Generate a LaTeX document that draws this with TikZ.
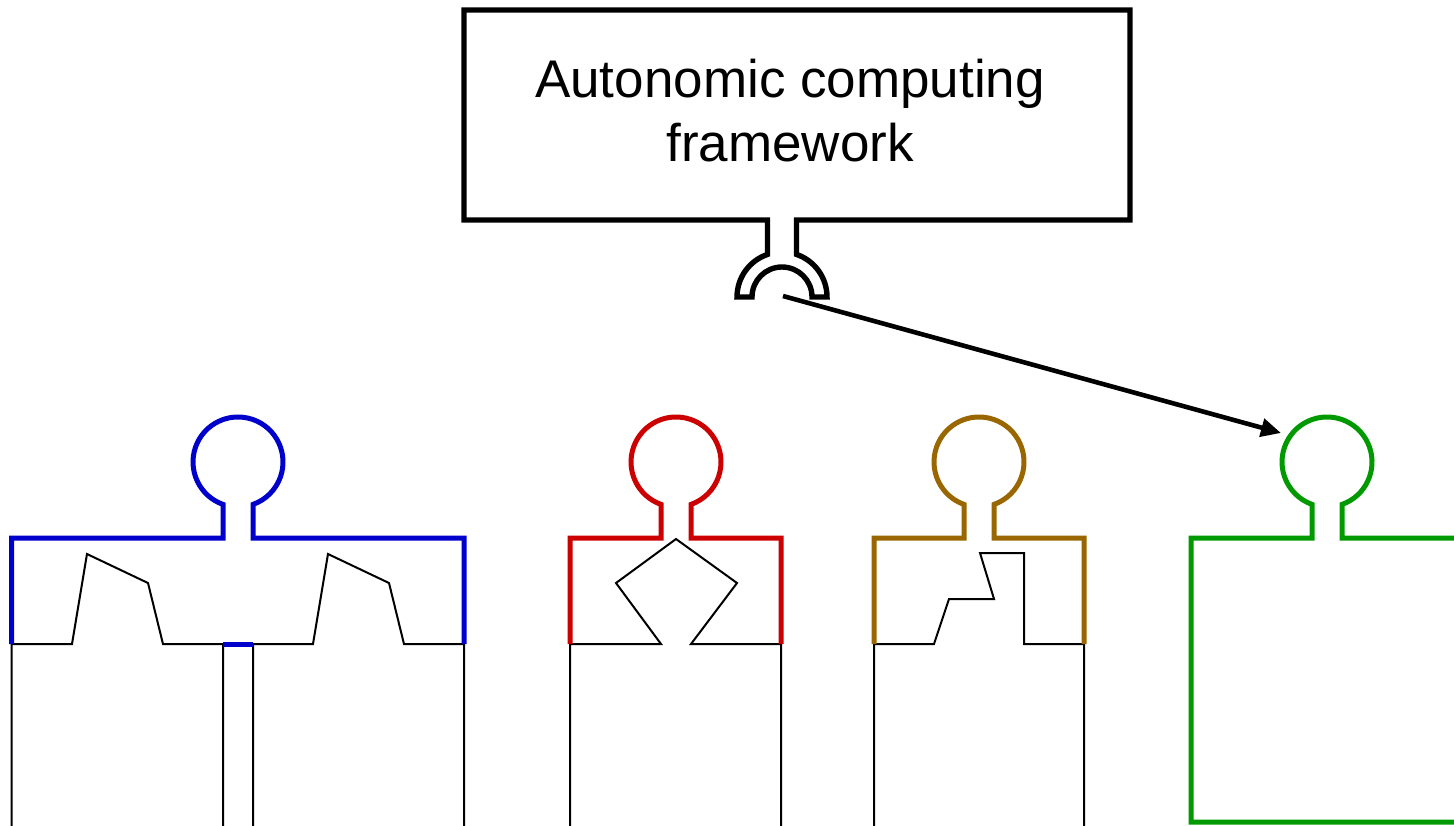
\documentclass[tikz,border=0pt]{standalone}
\usepackage{fontspec}
\setmainfont{Liberation Sans}
\usetikzlibrary{arrows.meta}
\definecolor{pblue}{HTML}{0000CC}
\definecolor{pred}{HTML}{CC0000}
\definecolor{pbrown}{HTML}{996600}
\definecolor{pgreen}{HTML}{009900}
% outline of a piece: shoulders plus round head; #1 centre x, #2 left x, #3 right x
\newcommand\jigsawhead[3]{%
  (#2,644) -- (#2,538) -- ({#1-15},538) -- ({#1-15},504.4)
  arc[start angle=109.47, end angle=430.53, radius=45]
  -- ({#1+15},538) -- (#3,538) -- (#3,644)}
\tikzset{
  x=0.5pt, y=-0.5pt,
  framebox/.style={line width=2.7pt, line join=miter},
  piece/.style={line width=2.5pt, line join=miter},
  thin/.style={line width=1pt, line join=miter},
  link/.style={line width=2.3pt, -{Triangle[length=10pt,width=9pt]}},
}
\begin{document}
\begin{tikzpicture}
\useasboundingbox (0,0) rectangle (1454,825);

% framework box with its socket
\draw[framebox] (767.5,220) -- (464,220) -- (464,10) -- (1130,10) -- (1130,220)
  -- (796.5,220) -- (796.5,254.4)
  arc[start angle=288.8, end angle=360, radius=45] -- (812,297)
  arc[start angle=360, end angle=180, radius=30] -- (737,297)
  arc[start angle=180, end angle=251.2, radius=45] -- cycle;
\node[font=\fontsize{26.5}{32}\selectfont, align=center] (title) at (790,111)
  {Autonomic computing\\framework};

% blue piece
\draw[thin] (11.5,830) -- (11.5,644) -- (72,644) -- (87,554) -- (148,583)
  -- (163,644) -- (223,644) -- (223,830);
\draw[thin] (253,830) -- (253,644) -- (313,644) -- (328,554) -- (389,583)
  -- (404,644) -- (464,644) -- (464,830);
\draw[piece, pblue] \jigsawhead{238}{11.5}{464};
\draw[piece, pblue] (223,644) -- (253,644);

% red piece
\draw[thin] (570,830) -- (570,644) -- (661,644) -- (616,583) -- (676,539)
  -- (737,583) -- (691,644) -- (781,644) -- (781,830);
\draw[piece, pred] \jigsawhead{676}{570}{781};

% brown piece
\draw[thin] (874,830) -- (874,644) -- (934,644) -- (949,599) -- (994,599)
  -- (980,553) -- (1024,553) -- (1024,644) -- (1084,644) -- (1084,830);
\draw[piece, pbrown] \jigsawhead{979}{874}{1084};

% green piece
\draw[piece, pgreen] (1470,538) -- (1342,538) -- (1342,504.4)
  arc[start angle=70.53, end angle=-250.53, radius=45]
  -- (1312,538) -- (1191,538) -- (1191,822) -- (1470,822);

% connector from the socket to the green head
\coordinate (plugtip) at (783,296);
\coordinate (greenhead) at (1281,433);
\draw[link] (plugtip) -- (greenhead);
\end{tikzpicture}
\end{document}
